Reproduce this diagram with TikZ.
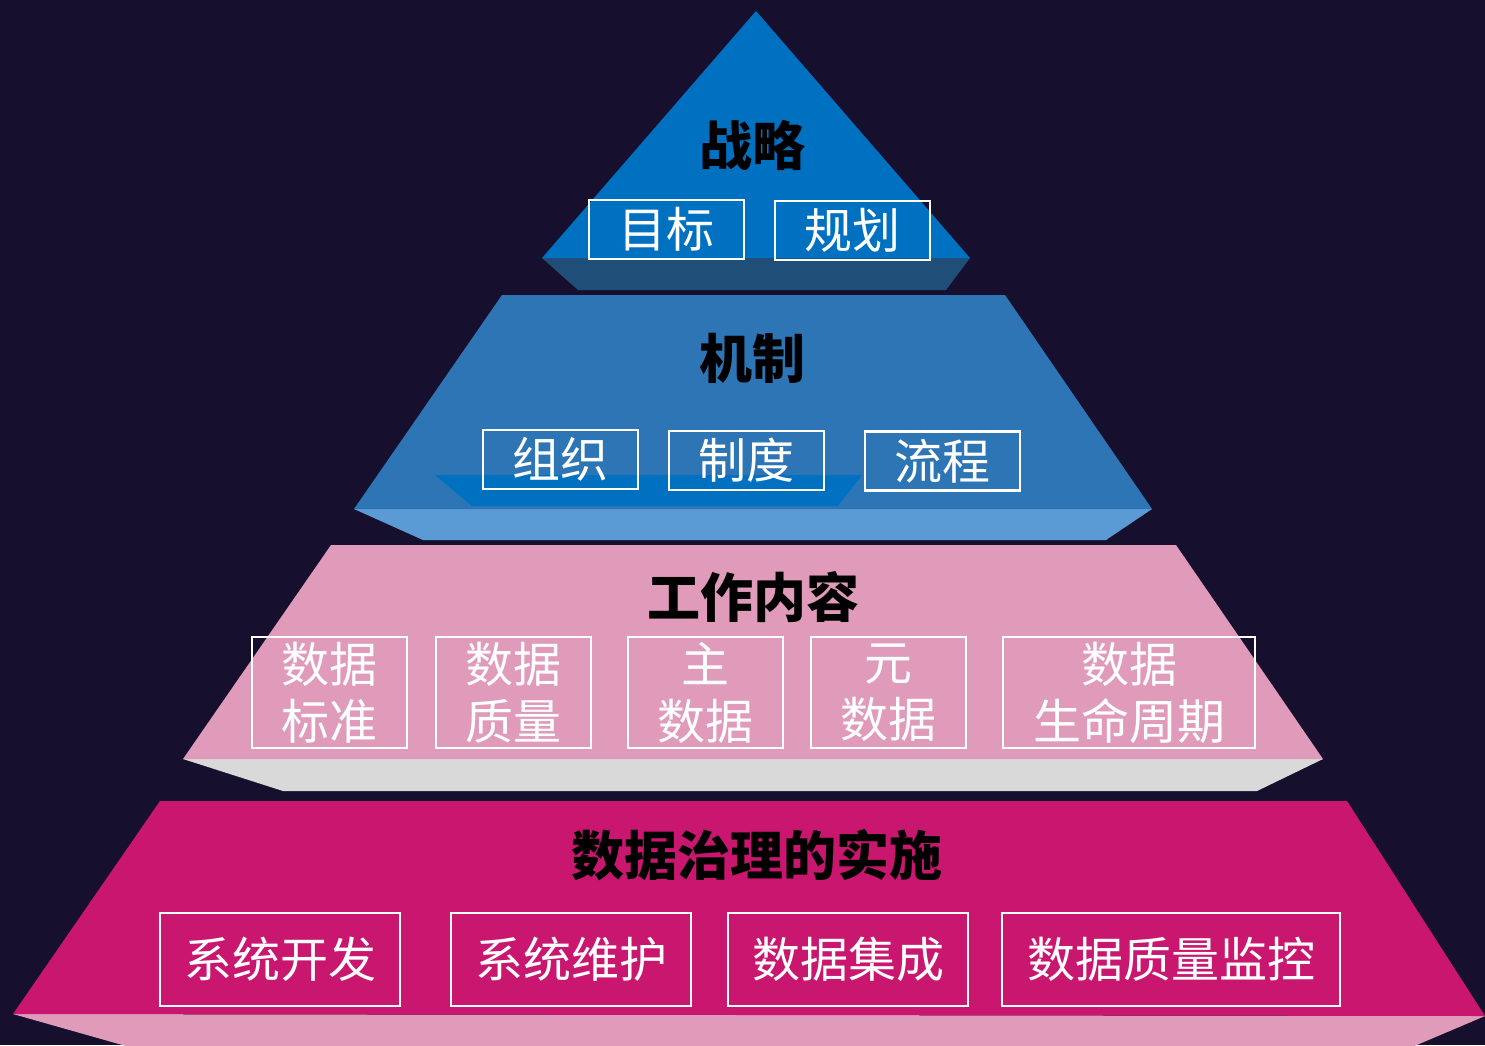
\documentclass[tikz,border=0pt]{standalone}
\usepackage{fontspec}
\newfontfamily\cjk{Noto Sans CJK SC}
\definecolor{bgnavy}{HTML}{16102E}
\definecolor{topblue}{HTML}{0070C0}
\definecolor{topshade}{HTML}{1F4E79}
\definecolor{midblue}{HTML}{2E75B6}
\definecolor{midshade}{HTML}{5B9BD5}
\definecolor{workpink}{HTML}{E09BBB}
\definecolor{workshade}{HTML}{D9D9D9}
\definecolor{baseplum}{HTML}{C9166F}
\tikzset{
  every picture/.style={line width=0.5pt},
  itembox/.style={draw=white,line width=2.5pt,inner sep=0pt,align=center,
    text=white,font=\cjk\fontsize{48}{57}\selectfont},
  layertitle/.style={inner sep=0pt,text=black,font=\cjk\bfseries\fontsize{53}{60}\selectfont}
}
\begin{document}
\begin{tikzpicture}[x=1pt,y=-1pt]
\useasboundingbox (0,0) rectangle (1485,1045);
\fill[bgnavy] (0,0) rectangle (1485,1045);
% top layer
\fill[topshade] (542,258) -- (970,258) -- (946,290) -- (578,290) -- cycle;
\fill[topblue] (756,11) -- (970,258) -- (542,258) -- cycle;
% second layer
\fill[midshade] (354,509) -- (1152,509) -- (1106,540) -- (423,540) -- cycle;
\fill[midblue] (502,295) -- (1005,295) -- (1152,509) -- (354,509) -- cycle;
\fill[topblue] (435,475) -- (862,475) -- (838,506) -- (472,506) -- cycle;
% third layer
\fill[workshade] (183,759) -- (1323,759) -- (1257,791) -- (283,791) -- cycle;
\fill[workpink] (331,545) -- (1176,545) -- (1323,759) -- (183,759) -- cycle;
% base layer
\fill[workpink] (13,1014) -- (1485,1016) -- (1405,1050) -- (140,1050) -- cycle;
\fill[baseplum] (160,801) -- (1347,801) -- (1485,1016) -- (13,1014) -- cycle;

\node[layertitle] (strategy) at (752,145) {战略};
\node[itembox,minimum width=155,minimum height=59] (goal) at (666.5,229.5) {目标};
\node[itembox,minimum width=155,minimum height=59] (plan) at (852.5,230.5) {规划};

\node[layertitle] (mechanism) at (752,358) {机制};
\node[itembox,minimum width=155,minimum height=59] (org) at (560.5,459.5) {组织};
\node[itembox,minimum width=155,minimum height=59] (policy) at (746.5,460.5) {制度};
\node[itembox,minimum width=155,minimum height=59] (process) at (942.5,461) {流程};

\node[layertitle] (scope) at (753,597) {工作内容};
\node[itembox,minimum width=155,minimum height=111] (datastd) at (329.5,692.5) {数据\\标准};
\node[itembox,minimum width=155,minimum height=111] (dataqual) at (513.5,692.5) {数据\\质量};
\node[itembox,minimum width=155,minimum height=111] (masterdata) at (705.5,692.5) {主\\数据};
\node[itembox,minimum width=155,minimum height=111] (metadata) at (888.5,692.5) {元\\数据};
\node[itembox,minimum width=252,minimum height=111] (lifecycle) at (1129,692.5) {数据\\生命周期};

\node[layertitle] (impl) at (757,855) {数据治理的实施};
\node[itembox,minimum width=240,minimum height=93] (sysdev) at (280,959.5) {系统开发};
\node[itembox,minimum width=240,minimum height=93] (sysmaint) at (571,959.5) {系统维护};
\node[itembox,minimum width=240,minimum height=93] (integ) at (848,959.5) {数据集成};
\node[itembox,minimum width=338,minimum height=93] (qualmon) at (1171,959.5) {数据质量监控};
\end{tikzpicture}
\end{document}
